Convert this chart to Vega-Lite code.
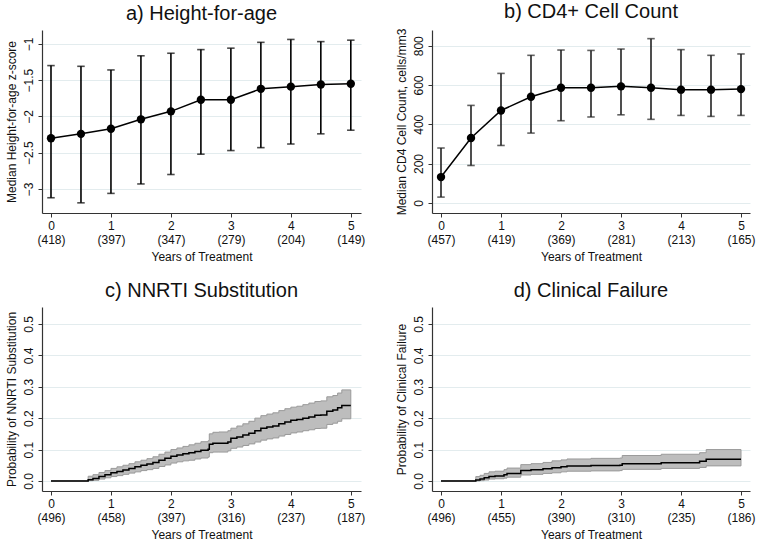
{
  "$schema": "https://vega.github.io/schema/vega-lite/v6.json",
  "background": "white",
  "padding": {"left": 4, "top": 2, "right": 4, "bottom": 0},
  "config": {
    "view": {"stroke": null},
    "font": "Liberation Sans",
    "axis": {
      "domainColor": "#333333",
      "tickColor": "#333333",
      "labelColor": "#111111",
      "titleColor": "#111111",
      "labelFontSize": 12,
      "titleFontSize": 12,
      "titleFontWeight": "normal",
      "gridColor": "#e3ecee",
      "tickSize": 4,
      "domainWidth": 1.2
    },
    "axisX": {"grid": false, "labelPadding": 3, "labelLineHeight": 14, "titlePadding": 6},
    "axisY": {"grid": true, "labelAngle": -90, "labelAlign": "center", "labelBaseline": "bottom", "labelPadding": 3, "titlePadding": 4},
    "title": {"fontSize": 20, "fontWeight": "normal", "color": "#111111", "offset": 6}
  },
  "vconcat": [
    {
      "hconcat": [
        {
          "width": 319, "height": 183,
          "title": "a) Height-for-age",
          "data": {"values": [
            {"year": 0, "med": -2.30, "lo": -3.12, "hi": -1.30},
            {"year": 0.5, "med": -2.24, "lo": -3.19, "hi": -1.31},
            {"year": 1, "med": -2.17, "lo": -3.06, "hi": -1.36},
            {"year": 1.5, "med": -2.04, "lo": -2.93, "hi": -1.165},
            {"year": 2, "med": -1.93, "lo": -2.80, "hi": -1.13},
            {"year": 2.5, "med": -1.77, "lo": -2.52, "hi": -1.08},
            {"year": 3, "med": -1.77, "lo": -2.47, "hi": -1.06},
            {"year": 3.5, "med": -1.62, "lo": -2.43, "hi": -0.98},
            {"year": 4, "med": -1.59, "lo": -2.38, "hi": -0.94},
            {"year": 4.5, "med": -1.56, "lo": -2.24, "hi": -0.97},
            {"year": 5, "med": -1.55, "lo": -2.19, "hi": -0.95}
          ]},
          "encoding": {
            "x": {"field": "year", "type": "quantitative", "title": "Years of Treatment",
                  "scale": {"domain": [-0.15, 5.17], "nice": false, "zero": false},
                  "axis": {"values": [0, 1, 2, 3, 4, 5], "format": "d", "labelExpr": "[datum.label, ['(418)','(397)','(347)','(279)','(204)','(149)'][datum.value]]"}}
          },
          "layer": [
            {"mark": {"type": "rule", "color": "black", "strokeWidth": 1.6},
             "encoding": {"y": {"field": "lo", "type": "quantitative", "title": "Median Height-for-age z-score", "scale": {"domain": [-3.33, -0.81], "nice": false, "zero": false}, "axis": {"values": [-3, -2.5, -2, -1.5, -1], "format": "~g"}}, "y2": {"field": "hi"}}},
            {"mark": {"type": "tick", "orient": "horizontal", "color": "black", "size": 7.5, "thickness": 1.6},
             "encoding": {"y": {"field": "lo", "type": "quantitative", "title": "Median Height-for-age z-score", "scale": {"domain": [-3.33, -0.81], "nice": false, "zero": false}, "axis": {"values": [-3, -2.5, -2, -1.5, -1], "format": "~g"}}}},
            {"mark": {"type": "tick", "orient": "horizontal", "color": "black", "size": 7.5, "thickness": 1.6},
             "encoding": {"y": {"field": "hi", "type": "quantitative", "title": "Median Height-for-age z-score", "scale": {"domain": [-3.33, -0.81], "nice": false, "zero": false}, "axis": {"values": [-3, -2.5, -2, -1.5, -1], "format": "~g"}}}},
            {"mark": {"type": "line", "color": "black", "strokeWidth": 1.5},
             "encoding": {"y": {"field": "med", "type": "quantitative", "title": "Median Height-for-age z-score", "scale": {"domain": [-3.33, -0.81], "nice": false, "zero": false}, "axis": {"values": [-3, -2.5, -2, -1.5, -1], "format": "~g"}}}},
            {"mark": {"type": "point", "filled": true, "size": 70, "color": "black", "opacity": 1},
             "encoding": {"y": {"field": "med", "type": "quantitative", "title": "Median Height-for-age z-score", "scale": {"domain": [-3.33, -0.81], "nice": false, "zero": false}, "axis": {"values": [-3, -2.5, -2, -1.5, -1], "format": "~g"}}}}
          ]
        },
        {
          "width": 318, "height": 183,
          "title": "b) CD4+ Cell Count",
          "data": {"values": [
            {"year": 0, "med": 131, "lo": 29, "hi": 279},
            {"year": 0.5, "med": 330, "lo": 190, "hi": 496},
            {"year": 1, "med": 470, "lo": 292, "hi": 659},
            {"year": 1.5, "med": 540, "lo": 355, "hi": 751},
            {"year": 2, "med": 586, "lo": 418, "hi": 778},
            {"year": 2.5, "med": 586, "lo": 437, "hi": 776},
            {"year": 3, "med": 593, "lo": 448, "hi": 783},
            {"year": 3.5, "med": 586, "lo": 425, "hi": 836},
            {"year": 4, "med": 576, "lo": 445, "hi": 780},
            {"year": 4.5, "med": 576, "lo": 440, "hi": 751},
            {"year": 5, "med": 579, "lo": 445, "hi": 758}
          ]},
          "encoding": {
            "x": {"field": "year", "type": "quantitative", "title": "Years of Treatment",
                  "scale": {"domain": [-0.15, 5.15], "nice": false, "zero": false},
                  "axis": {"values": [0, 1, 2, 3, 4, 5], "format": "d", "labelExpr": "[datum.label, ['(457)','(419)','(369)','(281)','(213)','(165)'][datum.value]]"}}
          },
          "layer": [
            {"mark": {"type": "rule", "color": "#222222", "strokeWidth": 1.6},
             "encoding": {"y": {"field": "lo", "type": "quantitative", "title": "Median CD4 Cell Count, cells/mm3", "scale": {"domain": [-52, 880], "nice": false, "zero": false}, "axis": {"values": [0, 200, 400, 600, 800]}}, "y2": {"field": "hi"}}},
            {"mark": {"type": "tick", "orient": "horizontal", "color": "#222222", "size": 7.5, "thickness": 1.6},
             "encoding": {"y": {"field": "lo", "type": "quantitative", "title": "Median CD4 Cell Count, cells/mm3", "scale": {"domain": [-52, 880], "nice": false, "zero": false}, "axis": {"values": [0, 200, 400, 600, 800]}}}},
            {"mark": {"type": "tick", "orient": "horizontal", "color": "#222222", "size": 7.5, "thickness": 1.6},
             "encoding": {"y": {"field": "hi", "type": "quantitative", "title": "Median CD4 Cell Count, cells/mm3", "scale": {"domain": [-52, 880], "nice": false, "zero": false}, "axis": {"values": [0, 200, 400, 600, 800]}}}},
            {"mark": {"type": "line", "color": "black", "strokeWidth": 1.5},
             "encoding": {"y": {"field": "med", "type": "quantitative", "title": "Median CD4 Cell Count, cells/mm3", "scale": {"domain": [-52, 880], "nice": false, "zero": false}, "axis": {"values": [0, 200, 400, 600, 800]}}}},
            {"mark": {"type": "point", "filled": true, "size": 70, "color": "black", "opacity": 1},
             "encoding": {"y": {"field": "med", "type": "quantitative", "title": "Median CD4 Cell Count, cells/mm3", "scale": {"domain": [-52, 880], "nice": false, "zero": false}, "axis": {"values": [0, 200, 400, 600, 800]}}}}
          ]
        }
      ],
      "spacing": 30
    },
    {
      "hconcat": [
        {
          "width": 319, "height": 184,
          "title": "c) NNRTI Substitution",
          "data": {"values": [
            {"year": 0, "est": 0, "lo": 0, "hi": 0},
            {"year": 0.6, "est": 0, "lo": 0, "hi": 0},
            {"year": 0.62, "est": 0.004, "lo": 0.001, "hi": 0.015},
            {"year": 0.7, "est": 0.008, "lo": 0.002, "hi": 0.02},
            {"year": 0.8, "est": 0.014, "lo": 0.006, "hi": 0.027},
            {"year": 0.9, "est": 0.02, "lo": 0.01, "hi": 0.033},
            {"year": 1.0, "est": 0.026, "lo": 0.014, "hi": 0.04},
            {"year": 1.1, "est": 0.03, "lo": 0.017, "hi": 0.045},
            {"year": 1.2, "est": 0.035, "lo": 0.021, "hi": 0.05},
            {"year": 1.3, "est": 0.04, "lo": 0.025, "hi": 0.055},
            {"year": 1.4, "est": 0.045, "lo": 0.029, "hi": 0.061},
            {"year": 1.5, "est": 0.05, "lo": 0.033, "hi": 0.066},
            {"year": 1.6, "est": 0.054, "lo": 0.036, "hi": 0.071},
            {"year": 1.7, "est": 0.059, "lo": 0.04, "hi": 0.077},
            {"year": 1.8, "est": 0.066, "lo": 0.046, "hi": 0.085},
            {"year": 1.9, "est": 0.072, "lo": 0.051, "hi": 0.092},
            {"year": 2.0, "est": 0.079, "lo": 0.057, "hi": 0.1},
            {"year": 2.1, "est": 0.083, "lo": 0.061, "hi": 0.105},
            {"year": 2.2, "est": 0.087, "lo": 0.064, "hi": 0.11},
            {"year": 2.3, "est": 0.09, "lo": 0.066, "hi": 0.115},
            {"year": 2.4, "est": 0.094, "lo": 0.07, "hi": 0.12},
            {"year": 2.5, "est": 0.098, "lo": 0.073, "hi": 0.125},
            {"year": 2.62, "est": 0.101, "lo": 0.076, "hi": 0.128},
            {"year": 2.64, "est": 0.117, "lo": 0.09, "hi": 0.15},
            {"year": 2.7, "est": 0.12, "lo": 0.092, "hi": 0.155},
            {"year": 2.8, "est": 0.12, "lo": 0.092, "hi": 0.156},
            {"year": 2.95, "est": 0.124, "lo": 0.096, "hi": 0.16},
            {"year": 3.0, "est": 0.136, "lo": 0.104, "hi": 0.168},
            {"year": 3.1, "est": 0.14, "lo": 0.108, "hi": 0.175},
            {"year": 3.2, "est": 0.146, "lo": 0.113, "hi": 0.182},
            {"year": 3.3, "est": 0.152, "lo": 0.118, "hi": 0.19},
            {"year": 3.4, "est": 0.16, "lo": 0.124, "hi": 0.2},
            {"year": 3.5, "est": 0.168, "lo": 0.13, "hi": 0.208},
            {"year": 3.6, "est": 0.172, "lo": 0.134, "hi": 0.213},
            {"year": 3.7, "est": 0.175, "lo": 0.137, "hi": 0.217},
            {"year": 3.8, "est": 0.182, "lo": 0.143, "hi": 0.224},
            {"year": 3.9, "est": 0.188, "lo": 0.148, "hi": 0.23},
            {"year": 4.0, "est": 0.193, "lo": 0.153, "hi": 0.235},
            {"year": 4.1, "est": 0.196, "lo": 0.156, "hi": 0.238},
            {"year": 4.2, "est": 0.2, "lo": 0.16, "hi": 0.243},
            {"year": 4.3, "est": 0.204, "lo": 0.163, "hi": 0.248},
            {"year": 4.4, "est": 0.209, "lo": 0.167, "hi": 0.253},
            {"year": 4.5, "est": 0.21, "lo": 0.168, "hi": 0.255},
            {"year": 4.6, "est": 0.222, "lo": 0.18, "hi": 0.268},
            {"year": 4.7, "est": 0.226, "lo": 0.184, "hi": 0.272},
            {"year": 4.78, "est": 0.233, "lo": 0.19, "hi": 0.28},
            {"year": 4.85, "est": 0.24, "lo": 0.198, "hi": 0.29},
            {"year": 5.0, "est": 0.24, "lo": 0.198, "hi": 0.29}
          ]},
          "encoding": {
            "x": {"field": "year", "type": "quantitative", "title": "Years of Treatment",
                  "scale": {"domain": [-0.15, 5.17], "nice": false, "zero": false},
                  "axis": {"values": [0, 1, 2, 3, 4, 5], "format": "d", "labelExpr": "[datum.label, ['(496)','(458)','(397)','(316)','(237)','(187)'][datum.value]]"}}
          },
          "layer": [
            {"mark": {"type": "area", "interpolate": "step-after", "color": "#bdbdbd", "stroke": "#9a9a9a", "strokeWidth": 1, "opacity": 1},
             "encoding": {"y": {"field": "lo", "type": "quantitative", "title": "Probability of NNRTI Substitution", "scale": {"domain": [-0.032, 0.554], "nice": false, "zero": false}, "axis": {"values": [0, 0.1, 0.2, 0.3, 0.4, 0.5], "format": ".1f"}}, "y2": {"field": "hi"}}},
            {"mark": {"type": "line", "interpolate": "step-after", "color": "black", "strokeWidth": 1.5},
             "encoding": {"y": {"field": "est", "type": "quantitative", "title": "Probability of NNRTI Substitution", "scale": {"domain": [-0.032, 0.554], "nice": false, "zero": false}, "axis": {"values": [0, 0.1, 0.2, 0.3, 0.4, 0.5], "format": ".1f"}}}}
          ]
        },
        {
          "width": 318, "height": 184,
          "title": "d) Clinical Failure",
          "data": {"values": [
            {"year": 0, "est": 0, "lo": 0, "hi": 0},
            {"year": 0.56, "est": 0, "lo": 0, "hi": 0},
            {"year": 0.58, "est": 0.003, "lo": 0.0, "hi": 0.014},
            {"year": 0.65, "est": 0.006, "lo": 0.001, "hi": 0.018},
            {"year": 0.72, "est": 0.01, "lo": 0.003, "hi": 0.024},
            {"year": 0.8, "est": 0.014, "lo": 0.006, "hi": 0.029},
            {"year": 0.9, "est": 0.016, "lo": 0.007, "hi": 0.031},
            {"year": 1.05, "est": 0.02, "lo": 0.009, "hi": 0.036},
            {"year": 1.1, "est": 0.024, "lo": 0.012, "hi": 0.041},
            {"year": 1.33, "est": 0.033, "lo": 0.019, "hi": 0.052},
            {"year": 1.5, "est": 0.036, "lo": 0.021, "hi": 0.055},
            {"year": 1.7, "est": 0.039, "lo": 0.024, "hi": 0.059},
            {"year": 1.85, "est": 0.042, "lo": 0.026, "hi": 0.064},
            {"year": 2.0, "est": 0.045, "lo": 0.029, "hi": 0.067},
            {"year": 2.1, "est": 0.048, "lo": 0.031, "hi": 0.07},
            {"year": 2.5, "est": 0.049, "lo": 0.032, "hi": 0.072},
            {"year": 2.98, "est": 0.05, "lo": 0.033, "hi": 0.073},
            {"year": 3.02, "est": 0.055, "lo": 0.037, "hi": 0.081},
            {"year": 3.67, "est": 0.058, "lo": 0.04, "hi": 0.085},
            {"year": 4.31, "est": 0.063, "lo": 0.043, "hi": 0.09},
            {"year": 4.42, "est": 0.069, "lo": 0.048, "hi": 0.1},
            {"year": 5.0, "est": 0.069, "lo": 0.048, "hi": 0.1}
          ]},
          "encoding": {
            "x": {"field": "year", "type": "quantitative", "title": "Years of Treatment",
                  "scale": {"domain": [-0.15, 5.15], "nice": false, "zero": false},
                  "axis": {"values": [0, 1, 2, 3, 4, 5], "format": "d", "labelExpr": "[datum.label, ['(496)','(455)','(390)','(310)','(235)','(186)'][datum.value]]"}}
          },
          "layer": [
            {"mark": {"type": "area", "interpolate": "step-after", "color": "#bdbdbd", "stroke": "#9a9a9a", "strokeWidth": 1, "opacity": 1},
             "encoding": {"y": {"field": "lo", "type": "quantitative", "title": "Probability of Clinical Failure", "scale": {"domain": [-0.032, 0.554], "nice": false, "zero": false}, "axis": {"values": [0, 0.1, 0.2, 0.3, 0.4, 0.5], "format": ".1f"}}, "y2": {"field": "hi"}}},
            {"mark": {"type": "line", "interpolate": "step-after", "color": "black", "strokeWidth": 1.5},
             "encoding": {"y": {"field": "est", "type": "quantitative", "title": "Probability of Clinical Failure", "scale": {"domain": [-0.032, 0.554], "nice": false, "zero": false}, "axis": {"values": [0, 0.1, 0.2, 0.3, 0.4, 0.5], "format": ".1f"}}}}
          ]
        }
      ],
      "spacing": 30
    }
  ],
  "spacing": 19
}
